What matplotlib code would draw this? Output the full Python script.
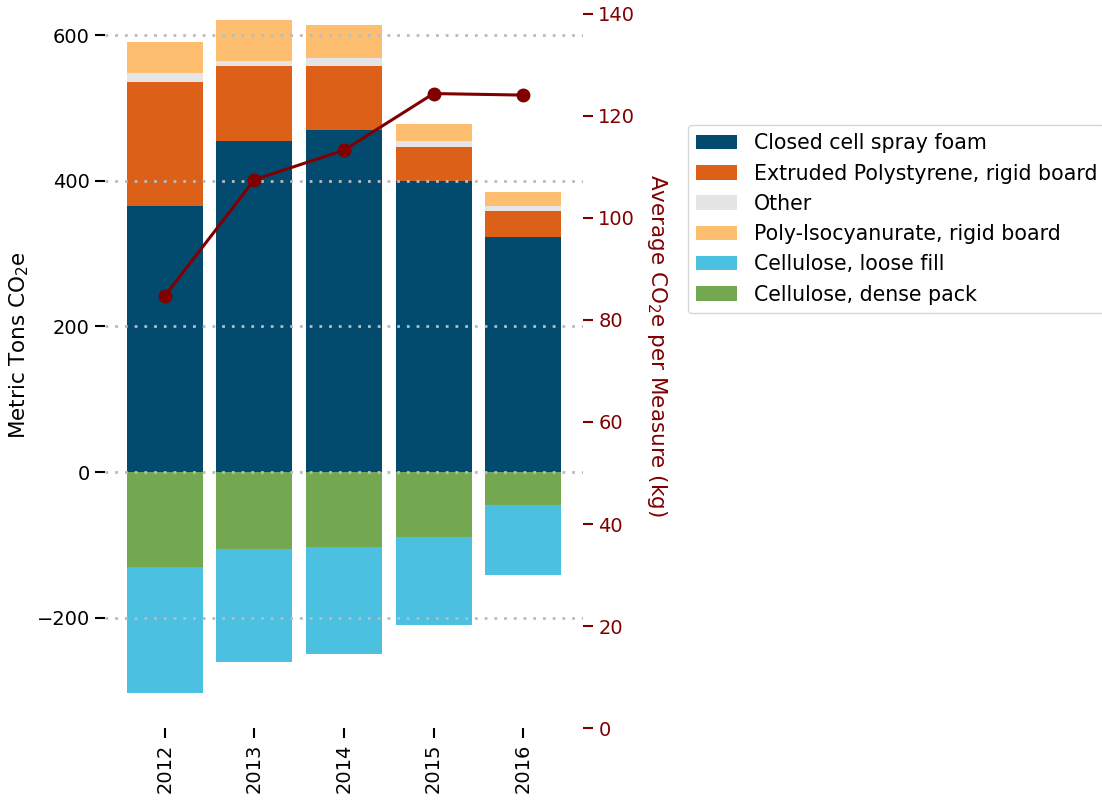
import numpy as np
import matplotlib
matplotlib.use("Agg")
import matplotlib.pyplot as plt

years = ["2012", "2013", "2014", "2015", "2016"]

# positive contributions (stacked upward)
closed_cell = [365, 454, 469, 400, 323]
xps_board = [170, 104, 89, 47, 36]
other = [13, 7, 10, 7, 6]
pir_board = [43, 56, 46, 24, 20]

# negative contributions (stacked downward)
dense_pack = [-130, -106, -103, -89, -45]
loose_fill = [-174, -155, -147, -121, -97]

# average CO2e per measure (kg), right axis
avg_per_measure = [84.7, 107.5, 113.3, 124.4, 124.1]

colors = {
    "Closed cell spray foam": "#024b6e",
    "Extruded Polystyrene, rigid board": "#dc6017",
    "Other": "#e5e5e5",
    "Poly-Isocyanurate, rigid board": "#fdbf6f",
    "Cellulose, loose fill": "#4bc0e0",
    "Cellulose, dense pack": "#73a850",
}
maroon = "#800000"

plt.rcParams["font.family"] = ["DejaVu Sans"]
plt.rcParams["font.size"] = 14

fig = plt.figure(figsize=(11.02, 8), dpi=100)
# axes top sits just above the visible canvas (original was cropped)
ax = fig.add_axes([105 / 1102, 1 - 728 / 800, (583 - 105) / 1102, (728 + 37) / 800])

x = np.arange(len(years))
w = 0.85

pos_series = [
    ("Closed cell spray foam", closed_cell),
    ("Extruded Polystyrene, rigid board", xps_board),
    ("Other", other),
    ("Poly-Isocyanurate, rigid board", pir_board),
]
bottom = np.zeros(len(years))
handles = []
for name, vals in pos_series:
    b = ax.bar(x, vals, w, bottom=bottom, color=colors[name], label=name, linewidth=0)
    handles.append(b)
    bottom += np.array(vals)

neg_series = [
    ("Cellulose, dense pack", dense_pack),
    ("Cellulose, loose fill", loose_fill),
]
bottom = np.zeros(len(years))
neg_handles = {}
for name, vals in neg_series:
    b = ax.bar(x, vals, w, bottom=bottom, color=colors[name], label=name, linewidth=0)
    neg_handles[name] = b
    bottom += np.array(vals)
handles.append(neg_handles["Cellulose, loose fill"])
handles.append(neg_handles["Cellulose, dense pack"])

ax.set_ylim(-351.5, 699)
ax.set_yticks([-200, 0, 200, 400, 600])
ax.set_yticklabels(["\u2212200", "0", "200", "400", "600"])
ax.set_xticks(x)
ax.set_xticklabels(years, rotation=90)
ax.set_ylabel("Metric Tons CO$_2$e", fontsize=15.5)
ax.grid(axis="y", color="#bbbbbb", linestyle=(0, (1, 2.5)), linewidth=2)
ax.set_axisbelow(False)
ax.tick_params(length=7, width=1.5, pad=4)
for s in ax.spines.values():
    s.set_visible(False)

ax2 = ax.twinx()
ax2.plot(x, avg_per_measure, color=maroon, linewidth=2.2, marker="o", markersize=9)
ax2.set_ylim(0, 150)
ax2.set_yticks(np.arange(0, 141, 20))
ax2.set_ylabel("Average CO$_2$e per Measure (kg)", color=maroon, rotation=270,
               labelpad=24, fontsize=15.5)
ax2.tick_params(axis="y", colors=maroon, length=7, width=1.5, pad=4)
for s in ax2.spines.values():
    s.set_visible(False)

fig.legend(handles=handles, labels=[h.get_label() for h in handles],
           loc="upper left", bbox_to_anchor=(688 / 1102, 1 - 125 / 800),
           frameon=True, edgecolor="#cccccc", fontsize=14.8, borderaxespad=0)

fig.savefig("out.png", dpi=100)
